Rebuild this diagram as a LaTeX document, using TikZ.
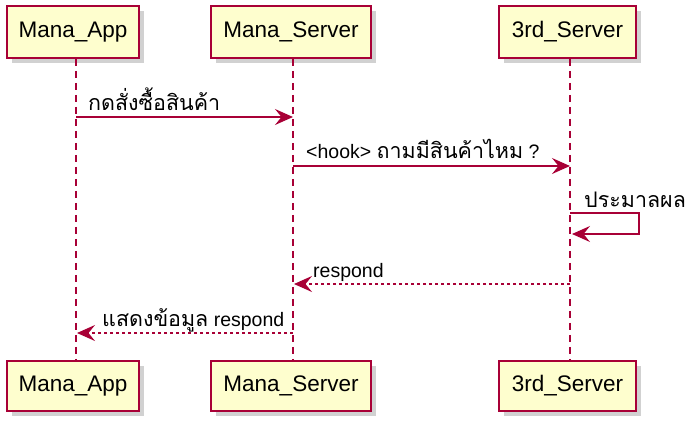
\documentclass[tikz,border=0pt]{standalone}
\usepackage{fontspec}
\setmainfont{Liberation Sans}
\newfontfamily\thai[Script=Thai,Scale=1.1]{Loma}
\usetikzlibrary{arrows.meta,shadows}
\definecolor{pumlred}{HTML}{A80036}
\definecolor{pumlfill}{HTML}{FEFECE}
\begin{document}
\begin{tikzpicture}[x=1pt,y=-1pt,
  part/.style={draw=pumlred, fill=pumlfill, line width=1.5pt, minimum width=#1,
    inner sep=0pt, font=\fontsize{22.5}{26}\selectfont,
    drop shadow={shadow xshift=5pt, shadow yshift=-5pt, opacity=0.3, fill=black!60}},
  lifeline/.style={pumlred, line width=1.3pt, dash pattern=on 7pt off 5pt},
  msg/.style={pumlred, line width=1.5pt, -{Stealth[length=18pt,width=16pt,inset=6.5pt]}},
  ret/.style={msg, dash pattern=on 3pt off 3pt},
  lbl/.style={font=\fontsize{19.5}{22}\selectfont, anchor=base west, inner sep=0pt}]
\useasboundingbox (0,0) rectangle (691,421);
% participants top
\node[part=132pt, minimum height=52pt] (A) at (73,32) {Mana\_App};
\node[part=160pt, minimum height=52pt] (S) at (291,32) {Mana\_Server};
\node[part=137pt, minimum height=52pt] (T) at (567.5,32) {3rd\_Server};
% participants bottom
\node[part=132pt, minimum height=50pt] (A2) at (73,386) {Mana\_App};
\node[part=160pt, minimum height=50pt] (S2) at (291,386) {Mana\_Server};
\node[part=137pt, minimum height=50pt] (T2) at (567.5,386) {3rd\_Server};
% lifeline x positions
\coordinate (xa) at (76,0);
\coordinate (xs) at (293,0);
\coordinate (xt) at (570,0);
\draw[lifeline] (A.south -| xa) -- (A2.north -| xa);
\draw[lifeline] (S.south -| xs) -- (S2.north -| xs);
\draw[lifeline] (T.south -| xt) -- (T2.north -| xt);
% message coordinates
\coordinate (m1a) at (76,117);
\coordinate (m1b) at (293,117);
\coordinate (m2a) at (293,166);
\coordinate (m2b) at (570,166);
\coordinate (m3a) at (570,213);
\coordinate (m3b) at (639,213);
\coordinate (m3c) at (639,234);
\coordinate (m3d) at (572,234);
\coordinate (m4a) at (570,284);
\coordinate (m4b) at (294,284);
\coordinate (m5a) at (293,333);
\coordinate (m5b) at (77,333);
\draw[msg] (m1a) -- (m1b);
\draw[msg] (m2a) -- (m2b);
\draw[msg] (m3a) -- (m3b) -- (m3c) -- (m3d);
\draw[ret] (m4a) -- (m4b);
\draw[ret] (m5a) -- (m5b);
% labels
\node[lbl] (l1) at (88,110) {\thai กดสั่งซื้อสินค้า};
\node[lbl] (l2) at (306,158) {<hook> {\thai ถามมีสินค้าไหม} ?};
\node[lbl] (l3) at (584,207) {\thai ประมาลผล};
\node[lbl] (l4) at (313,277) {respond};
\node[lbl] (l5) at (102,326) {{\thai แสดงข้อมูล} respond};
\end{tikzpicture}
\end{document}
